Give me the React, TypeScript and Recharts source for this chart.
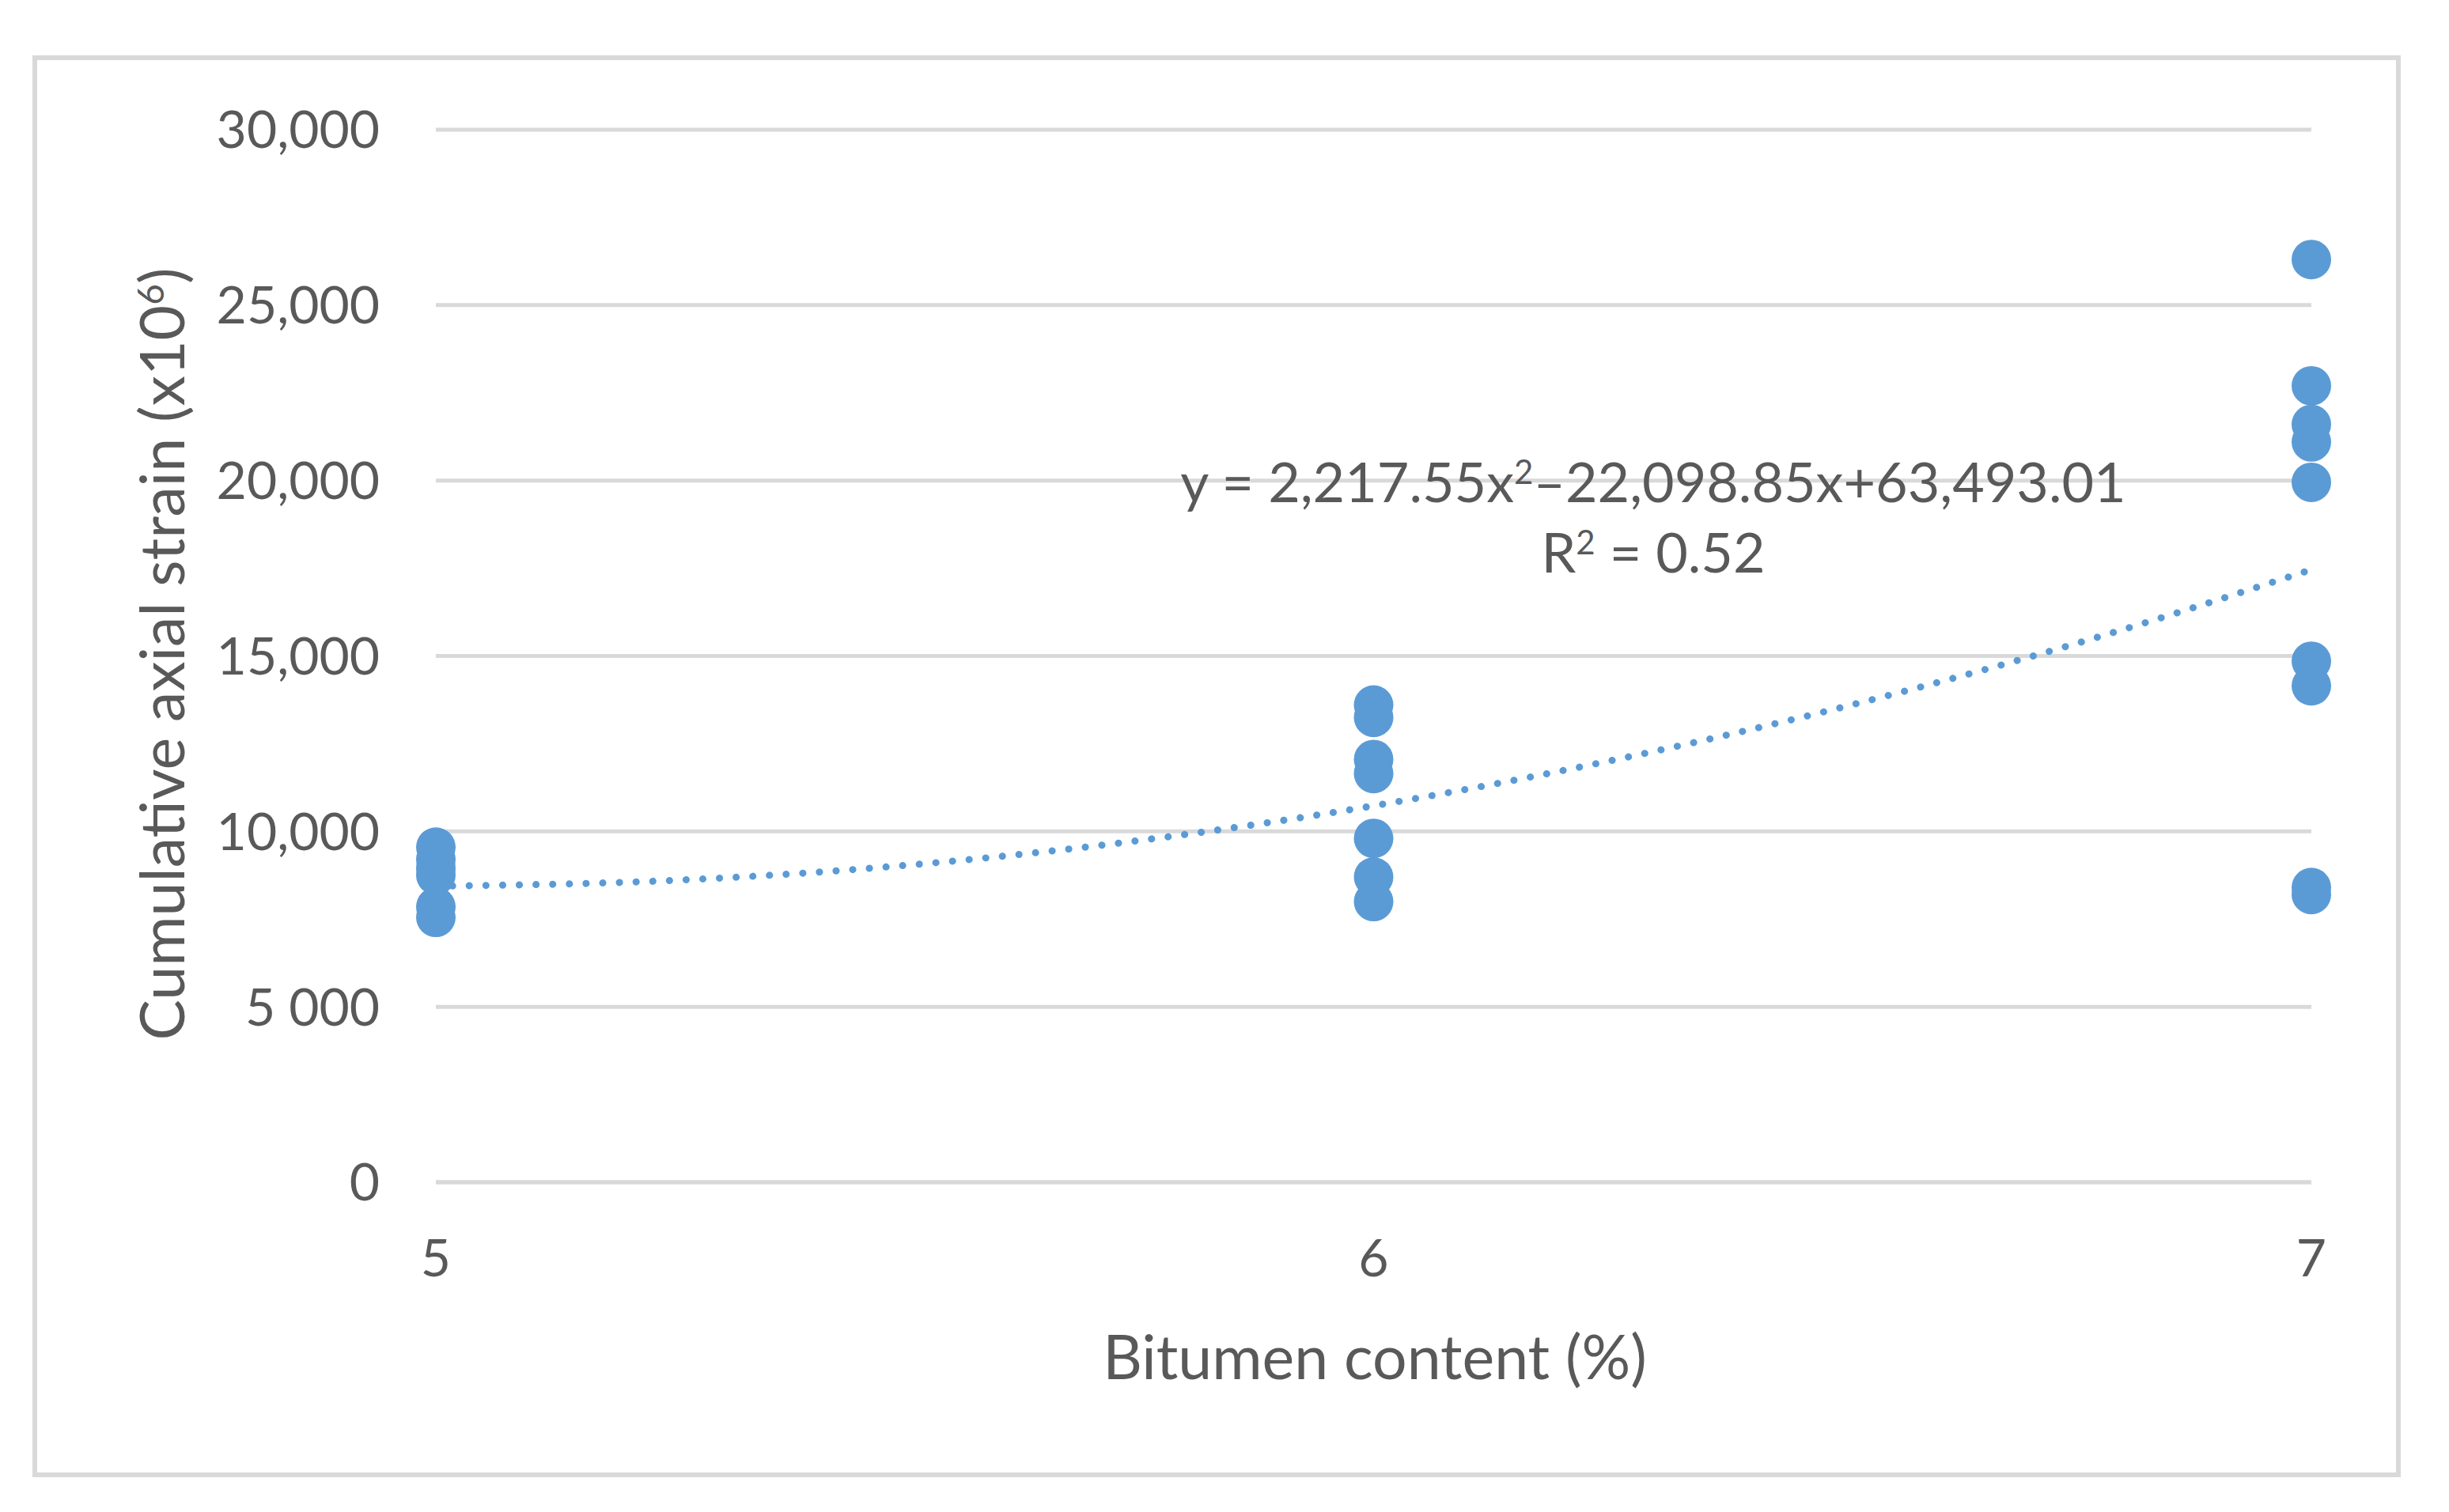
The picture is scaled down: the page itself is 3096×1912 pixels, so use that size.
import React from "react";
import {
  ComposedChart,
  Scatter,
  Line,
  XAxis,
  YAxis,
  CartesianGrid,
} from "recharts";

// measured points, bitumen content (%) vs cumulative axial strain (x10^6)
const bitumen5 = [9550, 9200, 8950, 8750, 7850, 7550];
const bitumen6 = [13600, 13250, 12050, 11650, 9800, 8700, 8000];
const bitumen7 = [26300, 22700, 21600, 21100, 19950, 14850, 14150, 8400, 8200];

// polynomial trendline
const trendX = [5, 5.25, 5.5, 5.75, 6, 6.25, 6.5, 6.75, 7];
const trendY = [8440, 8600, 9030, 9740, 10730, 12000, 13540, 15360, 17460];

const xTicks = [5, 6, 7];
const yTicks = [0, 5000, 10000, 15000, 20000, 25000, 30000];
const yTickLabels = ["0", "5 000", "10,000", "15,000", "20,000", "25,000", "30,000"];

const BLUE = "#5b9bd5";
const TEXT = "#595959";
const GRID = "#d9d9d9";
const FONT = "Lato, 'Open Sans', sans-serif";

const points = [
  ...bitumen5.map((y) => ({ x: 5, y })),
  ...bitumen6.map((y) => ({ x: 6, y })),
  ...bitumen7.map((y) => ({ x: 7, y })),
];
const trend = trendX.map((x, i) => ({ x, y: trendY[i] }));

const Dot = (props: any) => (
  <circle cx={props.cx} cy={props.cy} r={25} fill={BLUE} />
);

export default function App() {
  return (
    <div
      style={{
        position: "absolute",
        left: 0,
        top: 0,
        width: 3096,
        height: 1912,
        background: "#fff",
        fontFamily: FONT,
      }}
    >
      <div
        style={{
          position: "absolute",
          left: 41,
          top: 70,
          width: 2982,
          height: 1786,
          border: `6px solid ${GRID}`,
        }}
      />
      <ComposedChart
        width={3096}
        height={1912}
        margin={{ top: 164, right: 174, bottom: 317, left: 0 }}
        style={{ position: "absolute", left: 0, top: 0 }}
      >
        <CartesianGrid vertical={false} stroke={GRID} strokeWidth={5} />
        <XAxis
          type="number"
          dataKey="x"
          domain={[5, 7]}
          ticks={xTicks}
          height={100}
          tickLine={false}
          tickSize={0}
          tickMargin={72}
          axisLine={{ stroke: GRID, strokeWidth: 5 }}
          tick={{ fill: TEXT, fontSize: 66, fontFamily: FONT }}
        />
        <YAxis
          type="number"
          dataKey="y"
          domain={[0, 30000]}
          ticks={yTicks}
          width={551}
          tickLine={false}
          tickSize={0}
          tickMargin={71}
          axisLine={false}
          tickFormatter={(v: number) => yTickLabels[yTicks.indexOf(v)] ?? String(v)}
          tick={{ fill: TEXT, fontSize: 66, fontFamily: FONT }}
        />
        <Line
          data={trend}
          dataKey="y"
          type="monotone"
          stroke={BLUE}
          strokeWidth={9}
          strokeDasharray="0.1 21"
          strokeLinecap="round"
          dot={false}
          activeDot={false}
          isAnimationActive={false}
        />
        <Scatter
          data={points}
          dataKey="y"
          fill={BLUE}
          shape={Dot}
          isAnimationActive={false}
        />
      </ComposedChart>

      <div
        style={{
          position: "absolute",
          left: 2090,
          top: 608,
          transform: "translate(-50%, -50%)",
          whiteSpace: "nowrap",
          fontSize: 70,
          lineHeight: 1,
          color: TEXT,
        }}
      >
        y = 2,217.55x<sup style={{ fontSize: 42, verticalAlign: "0.55em" }}>2</sup>
        –22,098.85x+63,493.01
      </div>
      <div
        style={{
          position: "absolute",
          left: 2090,
          top: 697,
          transform: "translate(-50%, -50%)",
          whiteSpace: "nowrap",
          fontSize: 70,
          lineHeight: 1,
          color: TEXT,
        }}
      >
        R<sup style={{ fontSize: 42, verticalAlign: "0.55em" }}>2</sup> = 0.52
      </div>

      <div
        style={{
          position: "absolute",
          left: 1738,
          top: 1714,
          transform: "translate(-50%, -50%)",
          whiteSpace: "nowrap",
          fontSize: 77,
          lineHeight: 1,
          color: TEXT,
        }}
      >
        Bitumen content (%)
      </div>
      <div
        style={{
          position: "absolute",
          left: 203,
          top: 827,
          transform: "translate(-50%, -50%) rotate(-90deg)",
          whiteSpace: "nowrap",
          fontSize: 77,
          lineHeight: 1,
          color: TEXT,
        }}
      >
        Cumulative axial strain (x10
        <sup style={{ fontSize: 46, verticalAlign: "0.55em" }}>6</sup>)
      </div>
    </div>
  );
}
